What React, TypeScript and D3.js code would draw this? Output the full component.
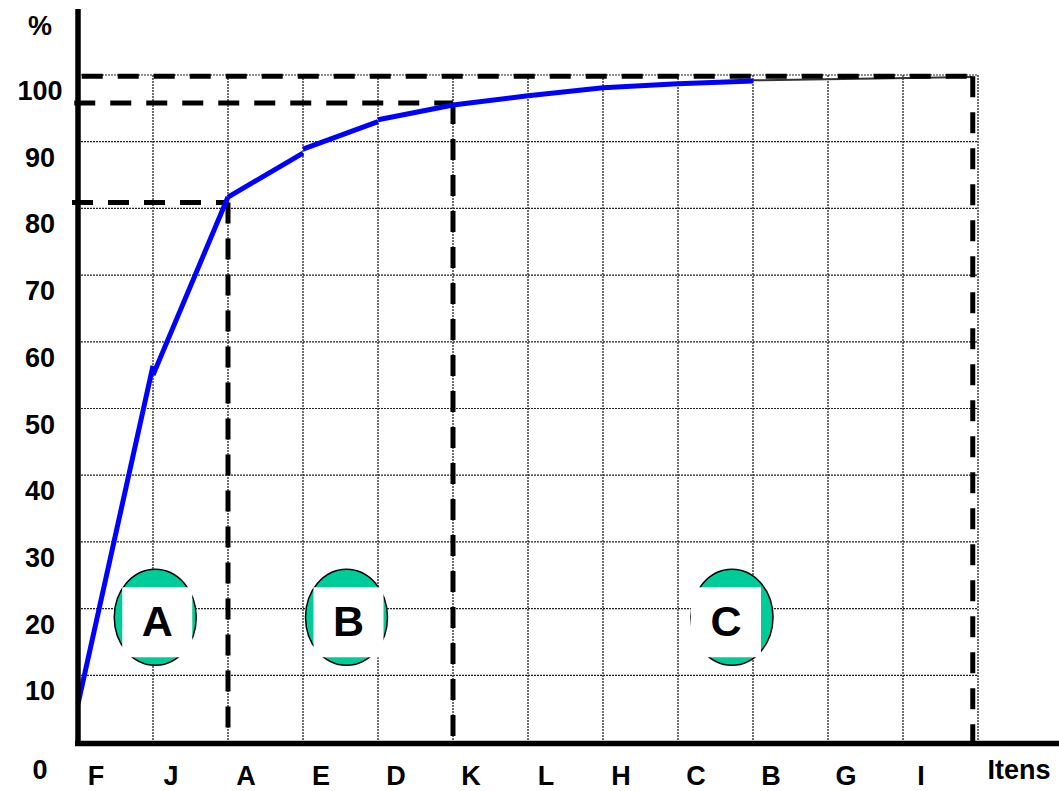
import React, { useEffect, useRef } from 'react';
import * as d3 from 'd3';

// ABC (Pareto) curve: cumulative % per item
const items = ['F', 'J', 'A', 'E', 'D', 'K', 'L', 'H', 'C', 'B', 'G', 'I'];
const segStart = [5.7, 55.0, 81.7, 88.9, 93.3, 95.5, 96.9, 98.1, 98.7];
const segEnd = [56.4, 81.7, 88.3, 93.0, 95.5, 96.9, 98.1, 98.7, 99.1];
const tailValues = [99.2, 99.7]; // thin line from B to the last column
const yTicks = [10, 20, 30, 40, 50, 60, 70, 80, 90, 100];
// class cut-offs: horizontal dashed line from xFrom to idx at value v, then down to 0
const cutoffs = [
  { xFrom: -0.08, idx: 2, v: 80.9 },
  { xFrom: -0.05, idx: 5, v: 95.8 },
  { xFrom: 0.05, idx: 11.93, v: 99.8 }
];
const classes = ['A', 'B', 'C'];
const classPos = [1.03, 3.58, 8.72];
const classLevel = 18.7;

const W = 1059, H = 791;
const FONT = '"Liberation Sans", Arial, Helvetica, sans-serif';

export default function App() {
  const ref = useRef<SVGSVGElement>(null);

  useEffect(() => {
    const svg = d3.select(ref.current);
    svg.selectAll('*').remove();

    const x = d3.scaleLinear().domain([0, 12]).range([78, 978]);
    const y = d3.scaleLinear().domain([0, 100]).range([742, 75]);

    const g = svg.append('g');

    // grid
    const gridCols = d3.range(1, 13);
    g.selectAll('line.vg').data(gridCols).enter().append('line')
      .attr('x1', d => x(d)).attr('x2', d => x(d)).attr('y1', y(100)).attr('y2', y(0))
      .attr('stroke', '#111').attr('stroke-width', 1.2).attr('stroke-dasharray', '2,1');
    g.selectAll('line.hg').data(yTicks).enter().append('line')
      .attr('x1', x(0)).attr('x2', x(12)).attr('y1', d => y(d)).attr('y2', d => y(d))
      .attr('stroke', '#222').attr('stroke-width', 1.2).attr('stroke-dasharray', '2,1');

    // class markers
    classes.forEach((c, i) => {
      const cx = x(classPos[i]);
      const cy = y(classLevel);
      g.append('ellipse').attr('cx', cx).attr('cy', cy).attr('rx', 41).attr('ry', 48)
        .attr('fill', '#00CC99').attr('stroke', '#000').attr('stroke-width', 1.5);
      const bx = i === 2 ? cx - 41 : cx - 33;
      g.append('rect').attr('x', bx).attr('y', cy - 30).attr('width', 70).attr('height', 70).attr('fill', '#fff');
      g.append('text').attr('x', bx + 35).attr('y', cy + 19).attr('text-anchor', 'middle')
        .attr('font-family', FONT).attr('font-weight', 700).attr('font-size', 43).attr('fill', '#000').text(c);
    });

    // tail line
    g.append('line').attr('x1', x(9)).attr('x2', x(12) - 6).attr('y1', y(tailValues[0])).attr('y2', y(tailValues[1]))
      .attr('stroke', '#333').attr('stroke-width', 2);

    // cut-off dashed lines
    cutoffs.forEach(c => {
      g.append('line').attr('x1', x(c.xFrom)).attr('x2', x(c.idx)).attr('y1', y(c.v)).attr('y2', y(c.v))
        .attr('stroke', '#000').attr('stroke-width', 5).attr('stroke-dasharray', '21,15');
      g.append('line').attr('x1', x(c.idx)).attr('x2', x(c.idx)).attr('y1', y(c.v)).attr('y2', y(0))
        .attr('stroke', '#000').attr('stroke-width', 5).attr('stroke-dasharray', '21,15');
    });

    // curve (drawn segment by segment)
    segStart.forEach((s, i) => {
      g.append('path')
        .attr('d', d3.line()([[x(i), y(s)], [x(i + 1), y(segEnd[i])]]))
        .attr('stroke', '#0000FF').attr('stroke-width', 5).attr('fill', 'none');
    });

    // axes
    g.append('line').attr('x1', x(0)).attr('x2', x(0)).attr('y1', 9).attr('y2', 746)
      .attr('stroke', '#000').attr('stroke-width', 5.5);
    g.append('line').attr('x1', x(0) - 3).attr('x2', W).attr('y1', 743.5).attr('y2', 743.5)
      .attr('stroke', '#000').attr('stroke-width', 5.5);

    const txt = (tx: number, ty: number, s: string) =>
      svg.append('text').attr('x', tx).attr('y', ty).attr('text-anchor', 'middle')
        .attr('font-family', FONT).attr('font-weight', 700).attr('font-size', 27).attr('fill', '#000').text(s);

    yTicks.forEach(v => txt(40, y(v) + 25, String(v)));
    txt(40, 779, '0');
    txt(40, 35, '%');
    items.forEach((it, i) => txt(x(i) + 18, 785, it));
    txt(1019, 779, 'Itens');
  }, []);

  return (
    <svg ref={ref} width={W} height={H}
      style={{ position: 'absolute', left: 0, top: 0, background: '#fff' }} />
  );
}
